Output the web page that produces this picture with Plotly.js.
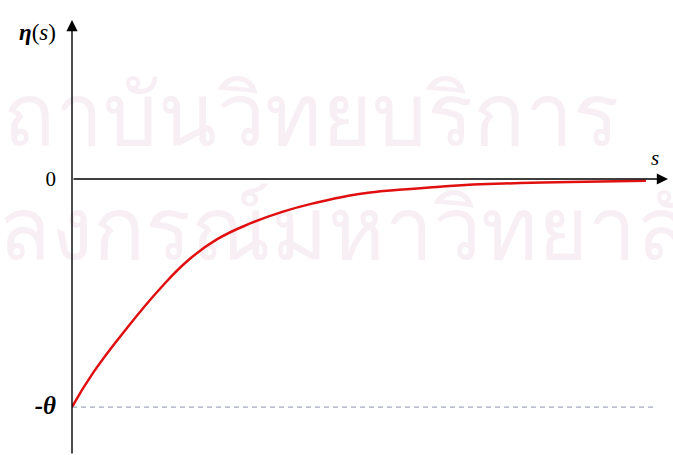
<!DOCTYPE html>
<html>
<head>
<meta charset="utf-8">
<script src="https://cdn.plot.ly/plotly-3.0.1.min.js"></script>
<style>
  html, body { margin: 0; padding: 0; background: #ffffff; }
  #chart { width: 673px; height: 455px; }
</style>
</head>
<body>
<div id="chart"></div>
<script>
// Decay of eta(s) from -theta towards 0 (theta = 1)
const sValues = [0, 0.35, 0.92, 1.48, 1.95, 2.43, 2.99, 3.54, 4.11, 4.66, 5.00, 5.55, 6.12, 6.73, 7.52, 8.36, 9.63];
const etaValues = [-1, -0.851, -0.654, -0.480, -0.356, -0.265, -0.195, -0.143, -0.103, -0.072, -0.059, -0.046, -0.035, -0.024, -0.018, -0.013, -0.008];
const yTickValues = [0, -1];
const yTickLabels = ['0', '<b style="font-size:25px"><i>-θ</i></b>'];

// faint background lettering, one entry per line (anchored at the centre of each line)
const watermarkLines = ['ถาบันวิทยบริการ', 'ลงกรณ์มหาวิทยาลั'];
const watermarkX = [4.01, 4.55];
const watermarkY = [0.245, -0.255];

const X_MIN = 0, X_MAX = 10;
const Y_MIN = -1.21, Y_MAX = 0.697;

const watermark = {
  x: watermarkX,
  y: watermarkY,
  text: watermarkLines,
  type: 'scatter',
  mode: 'text',
  textposition: 'middle center',
  textfont: { family: 'Noto Sans, DejaVu Sans, sans-serif', size: 86, color: '#f8eff4' },
  cliponaxis: false,
  hoverinfo: 'skip'
};

const curve = {
  x: sValues,
  y: etaValues,
  type: 'scatter',
  mode: 'lines',
  line: { color: '#e01010', width: 2.5, shape: 'spline', smoothing: 1.3 },
  cliponaxis: false,
  hoverinfo: 'skip'
};

const serif = 'Liberation Serif, Times New Roman, serif';

const plotW = 673 - 72 - 5, plotH = 455 - 20 - 0;

const annotations = [
  // vertical axis with arrow
  { x: 0, y: Y_MAX, ax: 0, ay: Y_MIN, xref: 'x', yref: 'y', axref: 'x', ayref: 'y',
    text: '', showarrow: true, arrowhead: 2, arrowsize: 1.6, arrowwidth: 1.4, arrowcolor: '#000000' },
  // horizontal axis with arrow
  { x: X_MAX, y: 0, ax: X_MIN, ay: 0, xref: 'x', yref: 'y', axref: 'x', ayref: 'y',
    text: '', showarrow: true, arrowhead: 2, arrowsize: 1.6, arrowwidth: 1.4, arrowcolor: '#000000' },
  // axis titles
  { x: (58 - 72) / plotW, y: 1 - (32 - 20) / plotH, xref: 'paper', yref: 'paper',
    xanchor: 'right', yanchor: 'middle', showarrow: false,
    text: '<b><i>η</i></b>(<i>s</i>)', font: { family: serif, size: 23, color: '#000000' } },
  { x: 9.78, y: 0.09, xref: 'x', yref: 'y', xanchor: 'center', yanchor: 'middle', showarrow: false,
    text: '<i>s</i>', font: { family: serif, size: 21, color: '#000000' } }
];

const shapes = [
  // reference level at -theta
  { type: 'line', xref: 'x', yref: 'y', x0: 0, x1: 9.8, y0: -1, y1: -1,
    line: { color: '#8c93a8', width: 1, dash: '5px,4px' } }
];

const layout = {
  width: 673,
  height: 455,
  margin: { l: 72, r: 5, t: 20, b: 0 },
  paper_bgcolor: '#ffffff',
  plot_bgcolor: '#ffffff',
  showlegend: false,
  xaxis: {
    range: [X_MIN, X_MAX],
    showgrid: false, zeroline: false, showline: false, showticklabels: false, ticks: ''
  },
  yaxis: {
    range: [Y_MIN, Y_MAX],
    showgrid: false, zeroline: false, showline: false, ticks: '',
    tickvals: yTickValues, ticktext: yTickLabels,
    tickfont: { family: serif, size: 21, color: '#000000' },
    ticklabelstandoff: 15
  },
  annotations: annotations,
  shapes: shapes
};

Plotly.newPlot('chart', [watermark, curve], layout, { staticPlot: true, displayModeBar: false });
</script>
</body>
</html>
